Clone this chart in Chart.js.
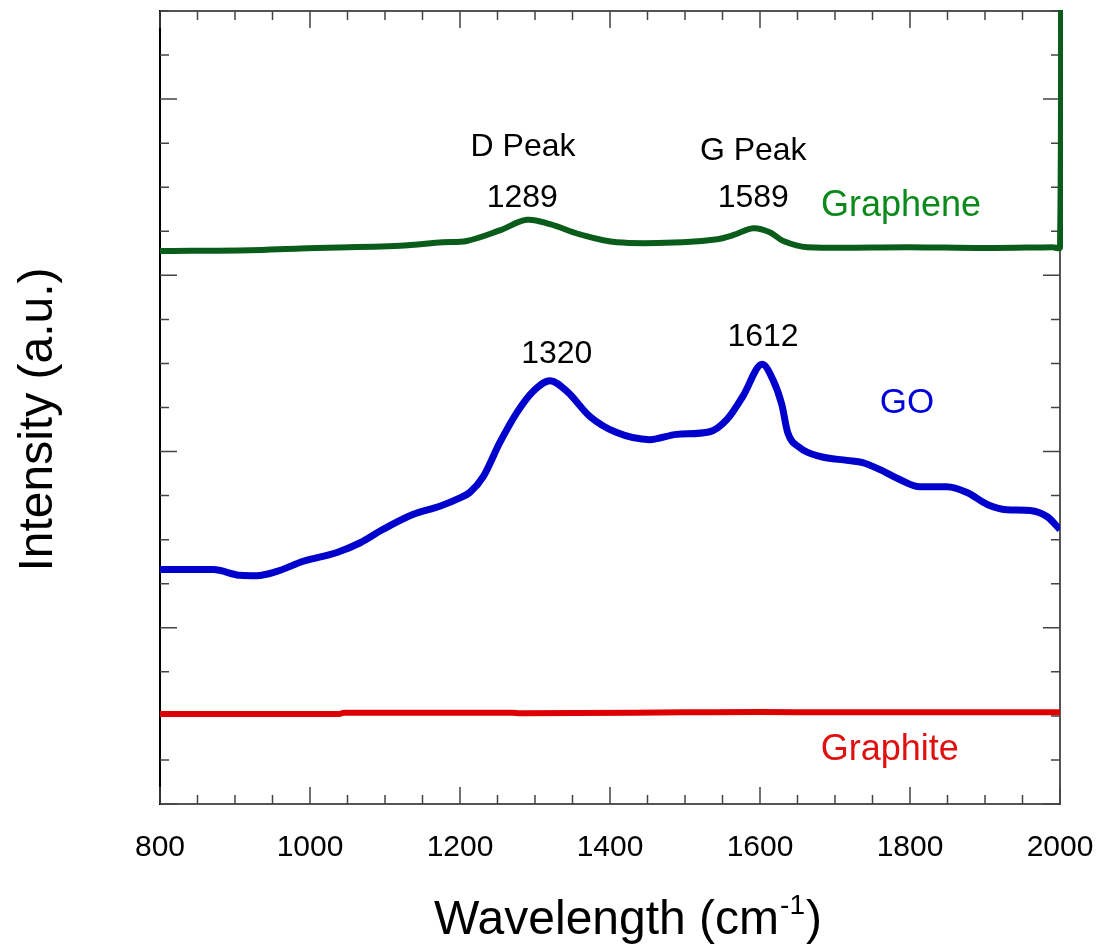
<!DOCTYPE html>
<html lang="en">
<head>
  <meta charset="UTF-8">
  <title>Raman spectra</title>
  <style>
    body {
      margin: 0;
      background: #fff;
    }
    #chart {
      display: block;
    }
  </style>
</head>
<body>
  <canvas id="chart" width="1099" height="948"></canvas>

  <script src="https://cdn.jsdelivr.net/npm/chart.js"></script>
  <script>
    // wavenumber (cm-1) and intensity (a.u., traces are offset)
    const grapheneWave = [800, 920, 987, 1120, 1177, 1209, 1253, 1289, 1320, 1360, 1409, 1497, 1543, 1564, 1591, 1613, 1631, 1663, 1800, 1900, 1990, 2000, 2000];
    const grapheneInt  = [12.55, 12.57, 12.61, 12.67, 12.75, 12.78, 13.02, 13.26, 13.16, 12.93, 12.75, 12.75, 12.82, 12.91, 13.07, 12.98, 12.78, 12.64, 12.64, 12.62, 12.64, 12.64, 25];

    const goWave = [800, 871, 907, 929, 956, 991, 1036, 1067, 1097, 1137, 1173, 1200, 1213, 1231, 1253, 1276, 1297, 1320, 1343, 1373, 1409, 1453, 1489, 1533, 1556, 1577, 1603, 1617, 1629, 1637, 1653, 1680, 1716, 1737, 1760, 1787, 1813, 1849, 1876, 1903, 1929, 1960, 1983, 2000];
    const goInt  = [5.32, 5.32, 5.19, 5.18, 5.28, 5.51, 5.71, 5.93, 6.23, 6.57, 6.76, 6.95, 7.07, 7.43, 8.20, 8.89, 9.36, 9.61, 9.36, 8.80, 8.43, 8.27, 8.39, 8.45, 8.73, 9.25, 9.98, 9.64, 9.07, 8.43, 8.09, 7.89, 7.80, 7.75, 7.59, 7.36, 7.20, 7.20, 7.07, 6.80, 6.68, 6.66, 6.52, 6.23];

    const graphiteWave = [800, 1040, 1045, 1270, 1280, 1500, 1600, 1700, 1800, 1900, 2000];
    const graphiteInt  = [2.045, 2.045, 2.07, 2.07, 2.06, 2.08, 2.09, 2.08, 2.085, 2.08, 2.08];

    const xMin = 800, xMax = 2000, xMajorStep = 200, xMinorStep = 50;
    const yMin = 0, yMax = 18, yMajorStep = 4, yMinorStep = 1;

    // text placed on the plot: [text, wavenumber, intensity (baseline), colour, font size]
    const peakLabels = [
      ['D Peak', 1284, 14.70, '#000', 32],
      ['1289', 1283, 13.545, '#000', 32],
      ['G Peak', 1591, 14.61, '#000', 32],
      ['1589', 1591, 13.545, '#000', 32],
      ['Graphene', 1788, 13.34, '#0b8a1b', 36],
      ['1320', 1329, 10.02, '#000', 32],
      ['1612', 1604, 10.39, '#000', 32],
      ['GO', 1796, 8.886, '#0000d8', 35],
      ['Graphite', 1773, 1.0, '#e01010', 36]
    ];

    const FONT = "'Liberation Sans', Arial, sans-serif";

    function toPoints(xs, ys) {
      return xs.map((x, i) => ({ x: x, y: ys[i] }));
    }

    const framePlugin = {
      id: 'frame',
      beforeDatasetsDraw(chart) {
        const { ctx, chartArea: a, scales } = chart;
        const x = scales.x, y = scales.y;
        ctx.save();
        ctx.lineWidth = 2;
        ctx.strokeStyle = '#555';
        ctx.beginPath();
        ctx.moveTo(a.left, a.top);
        ctx.lineTo(a.right, a.top);
        ctx.lineTo(a.right, a.bottom);
        ctx.lineTo(a.left, a.bottom);
        ctx.stroke();
        ctx.strokeStyle = '#000';
        ctx.beginPath();
        ctx.moveTo(a.left, a.top - 1);
        ctx.lineTo(a.left, a.bottom + 1);
        ctx.stroke();

        ctx.lineWidth = 1.5;
        ctx.strokeStyle = '#444';
        ctx.beginPath();
        for (let v = xMin; v <= xMax; v += xMinorStep) {
          const px = x.getPixelForValue(v);
          const len = (v - xMin) % xMajorStep === 0 ? 17 : 9;
          ctx.moveTo(px, a.bottom);
          ctx.lineTo(px, a.bottom - len);
          ctx.moveTo(px, a.top);
          ctx.lineTo(px, a.top + len);
        }
        for (let v = yMin; v <= yMax; v += yMinorStep) {
          const py = y.getPixelForValue(v);
          const len = (v - yMin) % yMajorStep === 0 ? 17 : 9;
          ctx.moveTo(a.left, py);
          ctx.lineTo(a.left + len, py);
          ctx.moveTo(a.right, py);
          ctx.lineTo(a.right - len, py);
        }
        ctx.stroke();
        ctx.restore();
      },
      afterDraw(chart) {
        const { ctx, chartArea: a, scales } = chart;
        ctx.save();
        ctx.textBaseline = 'alphabetic';

        // peak labels and trace names
        ctx.textAlign = 'center';
        peakLabels.forEach(([text, wx, wy, color, size]) => {
          ctx.font = size + 'px ' + FONT;
          ctx.fillStyle = color;
          ctx.fillText(text, scales.x.getPixelForValue(wx), scales.y.getPixelForValue(wy));
        });

        // x axis title with superscript
        ctx.fillStyle = '#000';
        ctx.textAlign = 'left';
        const main = 'Wavelength (cm', sup = '-1', close = ')';
        ctx.font = '48px ' + FONT;
        const w1 = ctx.measureText(main).width;
        const w3 = ctx.measureText(close).width;
        ctx.font = '28px ' + FONT;
        const w2 = ctx.measureText(sup).width;
        const cx = (a.left + a.right) / 2 + 17;
        let tx = cx - (w1 + w2 + w3) / 2;
        const base = 934;
        ctx.font = '48px ' + FONT;
        ctx.fillText(main, tx, base);
        ctx.font = '28px ' + FONT;
        ctx.fillText(sup, tx + w1 + 1, base - 20);
        ctx.font = '48px ' + FONT;
        ctx.fillText(close, tx + w1 + w2 + 2, base);

        // y axis title
        ctx.translate(52, (a.top + a.bottom) / 2 + 12);
        ctx.rotate(-Math.PI / 2);
        ctx.textAlign = 'center';
        ctx.font = '48px ' + FONT;
        ctx.fillText('Intensity (a.u.)', 0, 0);
        ctx.restore();
      }
    };

    new Chart(document.getElementById('chart'), {
      type: 'line',
      data: {
        datasets: [
          {
            label: 'Graphite',
            data: toPoints(graphiteWave, graphiteInt),
            borderColor: '#dd0000',
            borderWidth: 6,
            pointRadius: 0,
            cubicInterpolationMode: 'monotone'
          },
          {
            label: 'GO',
            data: toPoints(goWave, goInt),
            borderColor: '#0000cc',
            borderWidth: 7,
            pointRadius: 0,
            cubicInterpolationMode: 'monotone'
          },
          {
            label: 'Graphene',
            data: toPoints(grapheneWave, grapheneInt),
            borderColor: '#0a5c1a',
            borderWidth: 6,
            pointRadius: 0,
            tension: 0.35,
            clip: { left: 3, right: 3, top: 1, bottom: 3 }
          }
        ]
      },
      options: {
        responsive: false,
        animation: false,
        layout: { padding: { left: 160, right: 39, top: 11, bottom: 0 } },
        plugins: {
          legend: { display: false },
          tooltip: { enabled: false }
        },
        scales: {
          x: {
            type: 'linear',
            min: xMin,
            max: xMax,
            grid: { display: false },
            border: { display: false },
            ticks: {
              stepSize: xMajorStep,
              color: '#000',
              padding: 18,
              maxRotation: 0,
              font: { size: 30, family: FONT },
              callback: (v) => String(v)
            },
            afterFit(scale) {
              scale.height = 144;
              scale.paddingLeft = 0;
              scale.paddingRight = 0;
            }
          },
          y: {
            type: 'linear',
            min: yMin,
            max: yMax,
            display: false
          }
        }
      },
      plugins: [framePlugin]
    });
  </script>
</body>
</html>
